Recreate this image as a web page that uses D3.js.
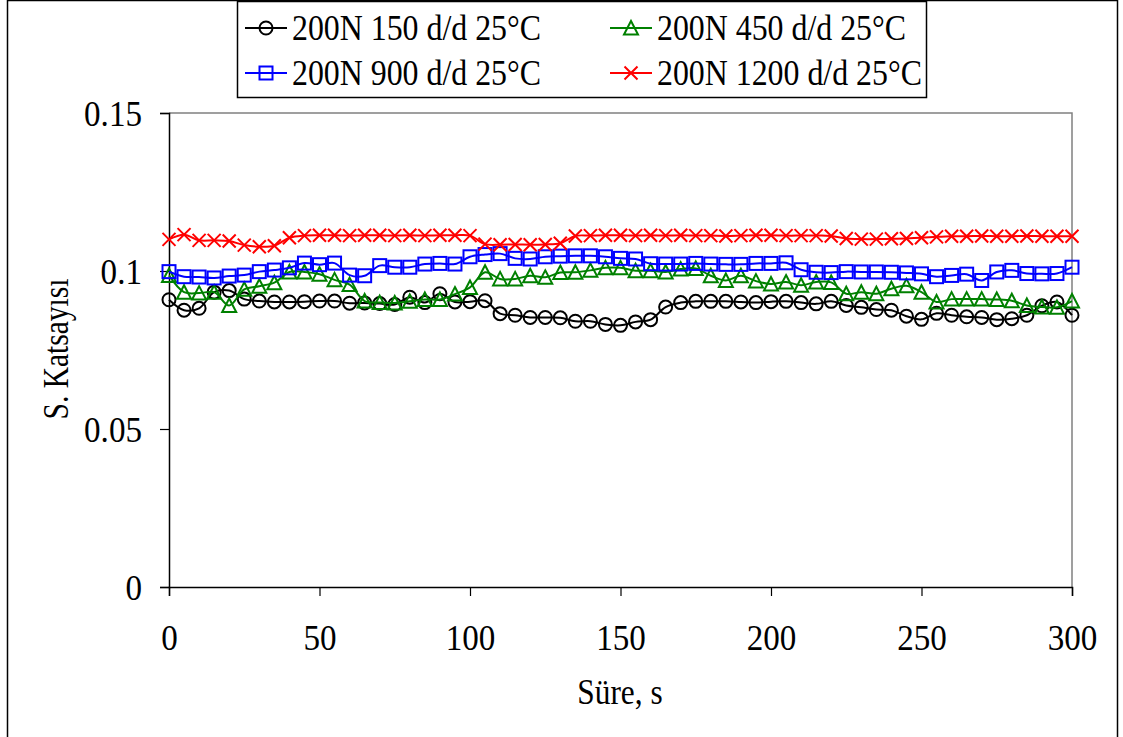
<!DOCTYPE html>
<html>
<head>
<meta charset="utf-8">
<script src="https://cdn.jsdelivr.net/npm/d3@7"></script>
<style>
  html, body { margin: 0; padding: 0; background: #fff; }
  svg { display: block; }
  text { font-family: "Liberation Serif", "Times New Roman", serif; fill: #000; }
</style>
</head>
<body>
<svg id="chart" width="1123" height="737"></svg>
<script>
// Time axis (s), sampled every 5 s
const times = d3.range(0, 301, 5);

// Friction coefficient series
const s150 = [0.0909,0.0876,0.0882,0.0933,0.0938,0.0911,0.0905,0.0902,0.0902,0.0903,
  0.0905,0.0905,0.0898,0.0899,0.0897,0.0894,0.0917,0.0900,0.0928,0.0902,
  0.0903,0.0906,0.0865,0.0860,0.0853,0.0853,0.0852,0.0841,0.0841,0.0831,
  0.0828,0.0839,0.0846,0.0886,0.0900,0.0904,0.0904,0.0904,0.0902,0.0900,
  0.0903,0.0904,0.0900,0.0896,0.0904,0.0891,0.0885,0.0878,0.0876,0.0857,
  0.0847,0.0866,0.0860,0.0855,0.0853,0.0846,0.0849,0.0860,0.0890,0.0902,0.0860];
const s450 = [0.0986,0.0933,0.0930,0.0933,0.0891,0.0942,0.0952,0.0963,0.0997,0.0997,
  0.0990,0.0972,0.0957,0.0905,0.0900,0.0899,0.0904,0.0910,0.0910,0.0927,
  0.0948,0.0996,0.0975,0.0975,0.0985,0.0980,0.0995,0.0996,0.1002,0.1010,
  0.1010,0.1001,0.1001,0.0997,0.1006,0.1008,0.0985,0.0970,0.0985,0.0968,
  0.0959,0.0965,0.0955,0.0965,0.0964,0.0928,0.0933,0.0928,0.0944,0.0953,
  0.0933,0.0902,0.0911,0.0911,0.0911,0.0910,0.0906,0.0891,0.0886,0.0885,0.0905];
const s900 = [0.0998,0.0982,0.0981,0.0978,0.0984,0.0987,0.0998,0.1003,0.1010,0.1025,
  0.1020,0.1025,0.0987,0.0985,0.1017,0.1012,0.1012,0.1022,0.1024,0.1022,
  0.1045,0.1052,0.1055,0.1040,0.1038,0.1045,0.1047,0.1048,0.1048,0.1045,
  0.1040,0.1038,0.1023,0.1022,0.1022,0.1024,0.1022,0.1021,0.1021,0.1024,
  0.1024,0.1026,0.1004,0.0996,0.0995,0.0998,0.0997,0.0997,0.0996,0.0994,
  0.0991,0.0982,0.0986,0.0990,0.0970,0.0997,0.1002,0.0992,0.0991,0.0992,0.1012];
const s1200 = [0.1100,0.1115,0.1097,0.1097,0.1095,0.1082,0.1077,0.1080,0.1105,0.1112,
  0.1113,0.1113,0.1112,0.1113,0.1113,0.1112,0.1113,0.1112,0.1113,0.1113,
  0.1112,0.1085,0.1083,0.1084,0.1083,0.1084,0.1088,0.1111,0.1112,0.1113,
  0.1113,0.1112,0.1113,0.1112,0.1113,0.1112,0.1112,0.1111,0.1112,0.1113,
  0.1113,0.1112,0.1112,0.1112,0.1111,0.1103,0.1101,0.1101,0.1102,0.1103,
  0.1105,0.1108,0.1110,0.1110,0.1111,0.1110,0.1110,0.1111,0.1110,0.1110,0.1110];

const seriesNames = ["200N 150 d/d 25°C", "200N 450 d/d 25°C", "200N 900 d/d 25°C", "200N 1200 d/d 25°C"];
const xTicks = [0, 50, 100, 150, 200, 250, 300];
const yTicks = [0, 0.05, 0.1, 0.15];

const series = [
  { name: seriesNames[0], values: s150, color: "#000000", marker: "circle" },
  { name: seriesNames[1], values: s450, color: "#008000", marker: "triangle" },
  { name: seriesNames[2], values: s900, color: "#0000ff", marker: "square" },
  { name: seriesNames[3], values: s1200, color: "#ff0000", marker: "cross" }
];

const FONT = 36;   // label font size (px), drawn slightly condensed
const svg = d3.select("#chart");

// Outer chart frame
svg.append("rect").attr("x", 7.5).attr("y", 0.5).attr("width", 1110).attr("height", 740)
  .attr("fill", "#fff").attr("stroke", "#000").attr("stroke-width", 1.5);

const plot = { left: 169, right: 1072, top: 113, bottom: 587 };
const x = d3.scaleLinear().domain([0, 300]).range([plot.left, plot.right]);
const y = d3.scaleLinear().domain([0, 0.15]).range([plot.bottom, plot.top]);

// Plot area border (top and right)
svg.append("path")
  .attr("d", `M${plot.left},${plot.top}H${plot.right}V${plot.bottom}`)
  .attr("fill", "none").attr("stroke", "#808080").attr("stroke-width", 1.5);

// Axes
const xAxis = svg.append("g").attr("transform", `translate(0,${plot.bottom})`)
  .call(d3.axisBottom(x).tickValues(xTicks).tickSize(9).tickFormat(d3.format("d")));
const yAxis = svg.append("g").attr("transform", `translate(${plot.left},0)`)
  .call(d3.axisLeft(y).tickValues(yTicks).tickSize(9).tickFormat(d => d === 0 ? "0" : String(d)));
[xAxis, yAxis].forEach(g => {
  g.selectAll("path.domain").attr("stroke", "#000").attr("stroke-width", 1.5);
  g.selectAll(".tick line").attr("stroke", "#000").attr("stroke-width", 1.2);
  g.selectAll(".tick text").style("font-family", "'Liberation Serif', serif")
    .style("font-size", FONT + "px").attr("fill", "#000");
});
xAxis.selectAll(".tick text").attr("y", 0).attr("dy", 0)
  .attr("transform", "translate(0,63) scale(0.92,1)");
yAxis.selectAll(".tick text").attr("x", 0).attr("dy", "0.34em")
  .attr("transform", "translate(-27,0) scale(0.92,1)");

// Axis titles
svg.append("text").attr("transform", "translate(620,704) scale(0.87,1)").attr("text-anchor", "middle")
  .style("font-size", FONT + "px").text("Süre, s");
svg.append("text").attr("transform", "translate(68,349) rotate(-90) scale(0.82,1)").attr("text-anchor", "middle")
  .style("font-size", FONT + "px").text("S. Katsayısı");

// Marker drawing
const ms = 6.5;
function drawMarker(g, type, color) {
  if (type === "circle") {
    g.append("circle").attr("r", ms).attr("fill", "none").attr("stroke", color).attr("stroke-width", 2);
  } else if (type === "square") {
    g.append("rect").attr("x", -ms).attr("y", -ms).attr("width", 2 * ms).attr("height", 2 * ms)
      .attr("fill", "none").attr("stroke", color).attr("stroke-width", 2);
  } else if (type === "triangle") {
    g.append("path").attr("d", `M0,${-ms - 0.5}L${ms + 0.5},${ms}L${-ms - 0.5},${ms}Z`)
      .attr("fill", "none").attr("stroke", color).attr("stroke-width", 2);
  } else if (type === "cross") {
    g.append("path").attr("d", `M${-ms},${-ms}L${ms},${ms}M${ms},${-ms}L${-ms},${ms}`)
      .attr("fill", "none").attr("stroke", color).attr("stroke-width", 2);
  }
}

const line = d3.line().x((d, i) => x(times[i])).y(d => y(d)).curve(d3.curveCatmullRom.alpha(0.5));

series.forEach(s => {
  const g = svg.append("g");
  g.append("path").datum(s.values).attr("d", line)
    .attr("fill", "none").attr("stroke", s.color).attr("stroke-width", 2);
  g.selectAll("g.m").data(s.values).join("g").attr("class", "m")
    .attr("transform", (d, i) => `translate(${x(times[i])},${y(d)})`)
    .each(function () { drawMarker(d3.select(this), s.marker, s.color); });
});

// Legend
const legend = svg.append("g");
legend.append("rect").attr("x", 237.5).attr("y", 1.5).attr("width", 689).attr("height", 96)
  .attr("fill", "#fff").attr("stroke", "#000").attr("stroke-width", 1.5);
const legendPos = [
  { lx: 245, ty: 28 }, { lx: 610, ty: 28 }, { lx: 245, ty: 73 }, { lx: 610, ty: 73 }
];
series.forEach((s, i) => {
  const p = legendPos[i];
  const g = legend.append("g");
  g.append("line").attr("x1", p.lx).attr("x2", p.lx + 42).attr("y1", p.ty).attr("y2", p.ty)
    .attr("stroke", s.color).attr("stroke-width", 2);
  const mg = g.append("g").attr("transform", `translate(${p.lx + 21},${p.ty})`);
  drawMarker(mg, s.marker, s.color);
  g.append("text").attr("transform", `translate(${p.lx + 47},${p.ty + 12}) scale(0.885,1)`)
    .style("font-size", FONT + "px").text(s.name);
});
</script>
</body>
</html>
